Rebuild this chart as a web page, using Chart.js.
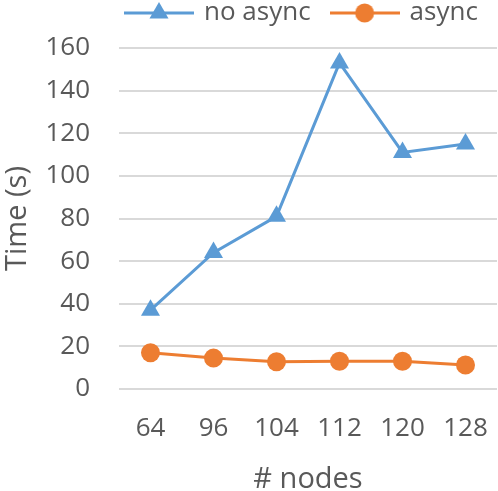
<!DOCTYPE html>
<html><head><meta charset="utf-8">
<script src="https://cdn.jsdelivr.net/npm/chart.js@4/dist/chart.umd.min.js"></script>
<style>html,body{margin:0;padding:0;background:#fff}#wrap{width:498px;height:491px}</style>
</head><body><div id="wrap"><canvas id="c" width="498" height="491"></canvas></div>
<script>
const categories = ["64","96","104","112","120","128"];
const noAsync = [37, 64, 81, 153, 111, 115];
const asyncVals = [17, 14.5, 12.8, 13, 13, 11.3];
const seriesNames = ["no async", "async"];
const yTicks = [0,20,40,60,80,100,120,140,160];

const BLUE = "#5b9bd5", ORANGE = "#ed7d31", TXT = "#595959", GRID = "#d9d9d9";
const FONT = "'Open Sans', 'DejaVu Sans', sans-serif";

function legendImg(color, style){
  const c = document.createElement('canvas'); c.width = 70; c.height = 26;
  const g = c.getContext('2d');
  g.strokeStyle = color; g.lineWidth = 3;
  g.beginPath(); g.moveTo(0,13); g.lineTo(70,13); g.stroke();
  g.fillStyle = color; g.beginPath();
  if (style === 'triangle'){ const r=11; g.moveTo(35,13-r); g.lineTo(35+r*0.866,13+r*0.5); g.lineTo(35-r*0.866,13+r*0.5); g.closePath(); }
  else { g.arc(35,13,9.5,0,Math.PI*2); }
  g.fill();
  return c;
}
const legendImgs = [legendImg(BLUE,'triangle'), legendImg(ORANGE,'circle')];

const chart = new Chart(document.getElementById('c'), {
  type: 'line',
  data: {
    labels: categories,
    datasets: [
      {label: seriesNames[0], data: noAsync, borderColor: BLUE, backgroundColor: BLUE, borderWidth: 3,
       pointStyle: 'triangle', pointRadius: 11, pointHoverRadius: 11, pointBorderWidth: 0, tension: 0},
      {label: seriesNames[1], data: asyncVals, borderColor: ORANGE, backgroundColor: ORANGE, borderWidth: 3,
       pointStyle: 'circle', pointRadius: 9.5, pointHoverRadius: 9.5, pointBorderWidth: 0, tension: 0}
    ]
  },
  options: {
    responsive: false, animation: false, devicePixelRatio: 1,
    layout: {autoPadding: false, padding: {left: 0, right: 1, top: 0, bottom: 0}},
    plugins: {
      tooltip: {enabled: false},
      legend: {
        position: 'top', align: 'start',
        labels: {
          usePointStyle: true, pointStyleWidth: 64, padding: 22,
          color: TXT, font: {family: FONT, size: 26},
          generateLabels: (ch) => ch.data.datasets.map((d,i) => ({
            text: d.label, pointStyle: legendImgs[i], fillStyle: d.borderColor,
            strokeStyle: d.borderColor, lineWidth: 0, datasetIndex: i, fontColor: TXT
          }))
        }
      }
    },
    scales: {
      x: {
        offset: true,
        grid: {display: true, drawOnChartArea: false, drawTicks: true, tickLength: 21, color: 'rgba(0,0,0,0)'},
        border: {display: false},
        ticks: {color: TXT, font: {family: FONT, size: 26}, padding: 3, maxRotation: 0},
        title: {display: true, text: '# nodes', color: TXT, font: {family: FONT, size: 29}, padding: {top: 0, bottom: -6}},
        afterFit: (s) => { s.height = 102; }
      },
      y: {
        min: 0, max: 160,
        afterBuildTicks: (s) => { s.ticks = yTicks.map(v => ({value: v})); },
        grid: {color: GRID, lineWidth: 2, drawTicks: false},
        border: {display: false},
        ticks: {color: TXT, font: {family: FONT, size: 26}, padding: 29},
        title: {display: true, text: 'Time (s)', color: TXT, font: {family: FONT, size: 29}, padding: {top: 0, bottom: 0}},
        afterFit: (s) => { s.width = 119; }
      }
    }
  }
});
const origFit = chart.legend.fit;
chart.legend.fit = function(){ origFit.call(this); this.height = 48; };
const origDraw = chart.legend.draw;
chart.legend.draw = function(a){ this.left = 105; this.right = 700; this.top = -22; origDraw.call(this, a); };
chart.update();
</script></body></html>
